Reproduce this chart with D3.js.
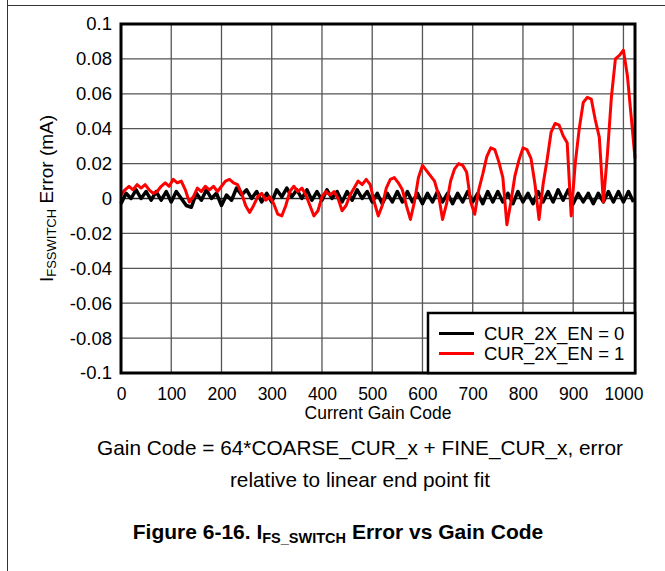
<!DOCTYPE html>
<html>
<head>
<meta charset="utf-8">
<script src="https://cdn.jsdelivr.net/npm/d3@7"></script>
<style>
  html, body { margin: 0; padding: 0; background: #fff; }
  svg { display: block; font-family: "Liberation Sans", Arial, sans-serif; }
</style>
</head>
<body>
<svg id="chart" width="665" height="571"></svg>
<script>
// ---------------- data ----------------
const xTicks = [0, 100, 200, 300, 400, 500, 600, 700, 800, 900, 1000];
const xTickLabels = ["0","100","200","300","400","500","600","700","800","900","1000"];
const yTicks = [0.1, 0.08, 0.06, 0.04, 0.02, 0, -0.02, -0.04, -0.06, -0.08, -0.1];
const yTickLabels = ["0.1","0.08","0.06","0.04","0.02","0","-0.02","-0.04","-0.06","-0.08","-0.1"];

const seriesNames = ["CUR_2X_EN = 0", "CUR_2X_EN = 1"];
const seriesColors = ["#000000", "#ff0000"];

// CUR_2X_EN = 0 : sampled every 10 codes (0..1020)
const blackCodes = d3.range(0, 1021, 10);
const blackValues = [
  -0.003, 0.003, 0.000, 0.005, 0.000, 0.004, -0.001, 0.004, -0.001, 0.004,
  -0.002, 0.004, 0.000, -0.004, -0.005, 0.003, -0.001, 0.005, 0.000, 0.003,
  -0.004, 0.002, -0.001, 0.006, 0.002, 0.005, 0.000, 0.004, -0.002, 0.003,
  -0.002, 0.005, 0.001, 0.006, 0.001, 0.005, 0.000, 0.005, -0.001, 0.004,
  -0.001, 0.005, 0.000, 0.004, -0.002, 0.004, -0.001, 0.005, 0.000, 0.004,
  -0.002, 0.003, -0.003, 0.003, -0.002, 0.004, -0.002, 0.004, -0.002, 0.003,
  -0.003, 0.003, -0.002, 0.004, -0.002, 0.003, -0.003, 0.003, -0.002, 0.004,
  -0.002, 0.003, -0.003, 0.004, -0.002, 0.004, -0.002, 0.003, -0.003, 0.004,
  -0.002, 0.003, -0.003, 0.004, -0.002, 0.004, -0.002, 0.005, -0.001, 0.005,
  -0.003, 0.003, -0.002, 0.003, -0.003, 0.003, -0.002, 0.004, -0.002, 0.004,
  -0.002, 0.004, -0.002
];

// CUR_2X_EN = 1 : sampled every 8 codes (0..1016) plus 1023
const redCodes = d3.range(0, 1017, 8).concat([1023]);
const redValues = [
  0.002, 0.005, 0.007, 0.005, 0.008, 0.006, 0.008, 0.005,
  0.003, 0.004, 0.007, 0.009, 0.007, 0.011, 0.009, 0.010,
  0.005, -0.002, 0.001, 0.006, 0.004, 0.007, 0.005, 0.007,
  0.004, 0.007, 0.010, 0.011, 0.009, 0.008, 0.003, -0.004,
  -0.008, -0.004, 0.001, 0.003, -0.001, 0.001, -0.003, -0.009,
  -0.010, -0.004, 0.004, 0.007, 0.004, 0.006, 0.002, -0.004,
  -0.010, -0.007, 0.001, 0.004, 0.002, 0.004, 0.000, -0.007,
  -0.004, 0.002, 0.006, 0.010, 0.008, 0.011, 0.008, -0.002,
  -0.010, -0.004, 0.006, 0.011, 0.012, 0.009, 0.005, -0.004,
  -0.012, -0.002, 0.012, 0.019, 0.016, 0.013, 0.010, 0.002,
  -0.012, -0.003, 0.010, 0.017, 0.020, 0.019, 0.015, -0.002,
  -0.009, 0.005, 0.014, 0.024, 0.029, 0.028, 0.021, 0.012,
  -0.015, -0.002, 0.013, 0.022, 0.029, 0.028, 0.023, 0.008,
  -0.012, 0.008, 0.022, 0.038, 0.043, 0.042, 0.036, 0.032,
  -0.010, 0.020, 0.040, 0.055, 0.058, 0.057, 0.045, 0.035,
  -0.002, 0.025, 0.058, 0.080, 0.082, 0.085, 0.070, 0.045,
  0.023
];

const yLabelMain = "I";
const yLabelSub = "FSSWITCH";
const yLabelRest = " Error (mA)";
const xLabel = "Current Gain Code";
const noteLines = ["Gain Code = 64*COARSE_CUR_x + FINE_CUR_x, error", "relative to linear end point fit"];
const titleA = "Figure 6-16. I";
const titleSub = "FS_SWITCH";
const titleB = " Error vs Gain Code";

// ---------------- layout ----------------
const svg = d3.select("#chart");
const L = 121, R = 635, T = 24, B = 373;

const x = d3.scaleLinear().domain([0, 1023]).range([L, R]);
const y = d3.scaleLinear().domain([-0.1, 0.1]).range([B, T]);

// page frame lines
svg.append("line").attr("x1", 7).attr("x2", 665).attr("y1", 5.5).attr("y2", 5.5)
  .attr("stroke", "#333").attr("stroke-width", 1);
svg.append("line").attr("x1", 7.5).attr("x2", 7.5).attr("y1", 0).attr("y2", 571)
  .attr("stroke", "#333").attr("stroke-width", 1);

// gridlines
const grid = svg.append("g");
grid.selectAll("line.v").data(xTicks.filter(d => d > 0)).join("line")
  .attr("x1", d => x(d)).attr("x2", d => x(d)).attr("y1", T).attr("y2", B)
  .attr("stroke", "#555").attr("stroke-width", 1.3);
grid.selectAll("line.h").data(yTicks.filter(d => d > -0.1 && d < 0.1)).join("line")
  .attr("x1", L).attr("x2", R).attr("y1", d => y(d)).attr("y2", d => y(d))
  .attr("stroke", d => d === 0 ? "#222" : "#555").attr("stroke-width", 1.3);

// series
const line = d3.line().x(d => x(d[0])).y(d => y(d[1]));
const blackData = blackCodes.map((c, i) => [c, blackValues[i]]).filter(d => d[1] !== undefined);
const redData = redCodes.map((c, i) => [c, redValues[i]]).filter(d => d[1] !== undefined);

svg.append("path").datum(blackData).attr("d", line)
  .attr("fill", "none").attr("stroke", seriesColors[0]).attr("stroke-width", 3.5)
  .attr("stroke-linejoin", "round");
svg.append("path").datum(redData).attr("d", line)
  .attr("fill", "none").attr("stroke", seriesColors[1]).attr("stroke-width", 3)
  .attr("stroke-linejoin", "round");

// plot border
svg.append("rect").attr("x", L).attr("y", T).attr("width", R - L).attr("height", B - T)
  .attr("fill", "none").attr("stroke", "#000").attr("stroke-width", 3);

// y axis labels
const yAxis = d3.axisLeft(y).tickValues(yTicks).tickSize(0).tickPadding(9)
  .tickFormat((d, i) => yTickLabels[i]);
const gy = svg.append("g").attr("transform", `translate(${L},0)`).call(yAxis);
gy.select(".domain").remove();
gy.selectAll("text").attr("font-size", 18.5).attr("fill", "#000")
  .attr("font-family", "'Liberation Sans', Arial, sans-serif");

// x axis labels
const xAxis = d3.axisBottom(x).tickValues(xTicks).tickSize(0).tickPadding(15)
  .tickFormat((d, i) => xTickLabels[i]);
const gx = svg.append("g").attr("transform", `translate(0,${B})`).call(xAxis);
gx.select(".domain").remove();
gx.selectAll("text").attr("font-size", 17.5).attr("fill", "#000")
  .attr("font-family", "'Liberation Sans', Arial, sans-serif");

// axis titles
svg.append("text").attr("x", (L + R) / 2).attr("y", 419).attr("text-anchor", "middle")
  .attr("font-size", 17.5).text(xLabel);

const yl = svg.append("text").attr("transform", "translate(53,198.5) rotate(-90)")
  .attr("text-anchor", "middle").attr("font-size", 19);
yl.append("tspan").text(yLabelMain);
yl.append("tspan").attr("font-size", 13).attr("dy", 3).text(yLabelSub);
yl.append("tspan").attr("dy", -3).text(yLabelRest);

// legend
const lg = svg.append("g");
lg.append("rect").attr("x", 428).attr("y", 313).attr("width", R - 428).attr("height", B - 313)
  .attr("fill", "#fff").attr("stroke", "#000").attr("stroke-width", 2.5);
seriesNames.forEach((name, i) => {
  const yy = 333.5 + i * 20;
  lg.append("line").attr("x1", 439).attr("x2", 474).attr("y1", yy).attr("y2", yy)
    .attr("stroke", seriesColors[i]).attr("stroke-width", 3);
  lg.append("text").attr("x", 484).attr("y", yy).attr("dy", "0.35em")
    .attr("font-size", 18.5).text(name);
});

// note lines
noteLines.forEach((t, i) => {
  svg.append("text").attr("x", 360).attr("y", 455 + i * 32).attr("text-anchor", "middle")
    .attr("font-size", 20.8).text(t);
});

// figure title
const tt = svg.append("text").attr("x", 338).attr("y", 539).attr("text-anchor", "middle")
  .attr("font-size", 21).attr("font-weight", "bold");
tt.append("tspan").text(titleA);
tt.append("tspan").attr("font-size", 14.5).attr("dy", 4).text(titleSub);
tt.append("tspan").attr("dy", -4).text(titleB);
</script>
</body>
</html>
